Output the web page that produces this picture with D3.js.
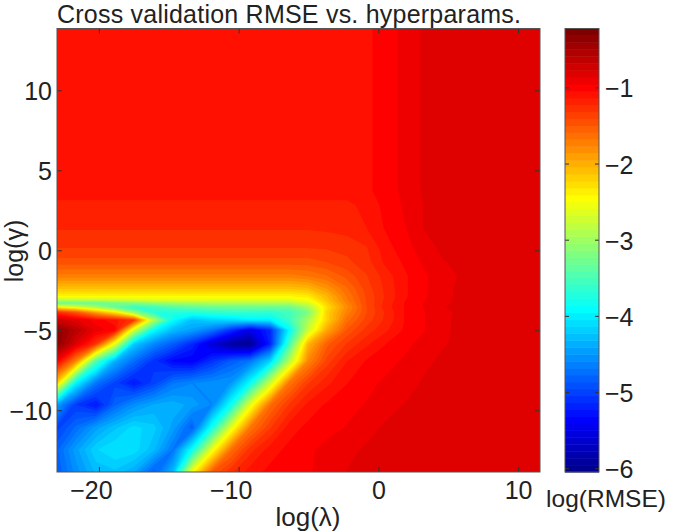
<!DOCTYPE html>
<html><head><meta charset="utf-8">
<script src="https://cdn.jsdelivr.net/npm/d3@7"></script>
<style>html,body{margin:0;padding:0;background:#fff}svg{display:block}text{font-family:"Liberation Sans",Arial,sans-serif;fill:#222}</style>
</head><body><svg id="c" width="675" height="532"></svg>
<script>
const lambdaLevels=[-23,-21.64,-20.21,-18.85,-17.49,-16.06,-14.7,-13.34,-11.91,-10.55,-9.19,-7.76,-6.4,-5.04,-3.68,-2.25,-0.89,0.47,1.9,3.26,4.62,6.05,7.41,8.77,10.2,11.57];
const gammaLevels=[-13.86,-12.47,-11.09,-9.66,-8.29,-6.92,-5.86,-4.99,-4.36,-3.87,-3.55,-3.3,-3.12,-2.87,-2.37,-1.62,-0.75,0.12,1.37,2.81,3.74,13.86];
const rmseGrid=[
[-4.85,-4.55,-4.3,-4.25,-4.4,-4.85,-4.3,-2.5,-1.5,-1.25,-1.09,-1.02,-0.99,-0.965,-0.92,-0.86,-0.83,-0.83,-0.83,-0.83,-0.83,-0.83,-0.83,-0.83,-0.83,-0.83],
[-4.8,-4.45,-4.15,-4.05,-4.08,-4.3,-4.7,-3.85,-2.55,-1.62,-1.27,-1.09,-1.02,-0.97,-0.93,-0.89,-0.85,-0.83,-0.83,-0.83,-0.83,-0.83,-0.83,-0.83,-0.83,-0.83],
[-5.0,-4.75,-4.45,-4.25,-4.1,-4.2,-4.45,-4.85,-3.8,-2.6,-1.67,-1.33,-1.09,-1.02,-0.98,-0.95,-0.9,-0.85,-0.83,-0.83,-0.83,-0.83,-0.83,-0.83,-0.83,-0.83],
[-4.45,-5.05,-5.25,-4.8,-4.55,-4.4,-4.35,-4.45,-4.6,-3.85,-2.6,-1.62,-1.31,-1.11,-1.03,-0.98,-0.95,-0.9,-0.86,-0.83,-0.83,-0.83,-0.83,-0.83,-0.83,-0.83],
[-2.2,-3.95,-4.7,-5.0,-5.25,-5.0,-4.7,-4.6,-4.55,-4.5,-3.9,-2.75,-1.67,-1.33,-1.16,-1.05,-0.98,-0.94,-0.91,-0.85,-0.83,-0.83,-0.83,-0.83,-0.83,-0.83],
[-0.95,-1.75,-3.45,-4.35,-4.75,-5.1,-5.35,-5.4,-5.1,-4.85,-4.7,-4.15,-2.9,-1.77,-1.37,-1.14,-1.04,-0.99,-0.94,-0.89,-0.84,-0.83,-0.83,-0.83,-0.83,-0.83],
[-0.32,-0.8,-1.3,-2.6,-4.2,-4.6,-4.85,-5.15,-5.6,-5.9,-6.0,-5.2,-3.55,-2.05,-1.53,-1.31,-1.16,-1.05,-0.98,-0.92,-0.875,-0.83,-0.83,-0.83,-0.83,-0.83],
[-0.33,-0.6,-0.9,-1.0,-2.7,-3.9,-4.3,-4.45,-4.7,-5.1,-5.5,-5.15,-3.95,-2.75,-1.95,-1.49,-1.29,-1.16,-1.03,-0.96,-0.88,-0.84,-0.83,-0.83,-0.83,-0.83],
[-0.7,-0.85,-1.0,-1.1,-1.3,-2.9,-3.9,-4.25,-4.15,-4.1,-4.0,-4.0,-3.6,-2.95,-2.2,-1.63,-1.38,-1.21,-1.04,-0.96,-0.88,-0.84,-0.83,-0.83,-0.83,-0.83],
[-1.25,-1.5,-1.95,-2.35,-3.1,-3.7,-3.7,-3.7,-3.65,-3.6,-3.6,-3.65,-3.55,-3.2,-2.2,-1.74,-1.42,-1.22,-1.04,-0.96,-0.89,-0.84,-0.83,-0.83,-0.83,-0.83],
[-2.41,-2.62,-2.95,-3.35,-3.6,-3.55,-3.4,-3.35,-3.3,-3.3,-3.3,-3.3,-3.3,-2.95,-2.28,-1.8,-1.42,-1.19,-1.04,-0.95,-0.87,-0.83,-0.83,-0.83,-0.83,-0.83],
[-3.35,-3.35,-3.32,-3.25,-3.15,-3.05,-3.0,-2.95,-2.92,-2.92,-2.92,-2.92,-2.92,-2.68,-2.17,-1.74,-1.41,-1.2,-1.04,-0.95,-0.88,-0.84,-0.83,-0.83,-0.83,-0.83],
[-2.85,-2.83,-2.8,-2.77,-2.72,-2.66,-2.63,-2.62,-2.62,-2.62,-2.62,-2.62,-2.62,-2.5,-2.1,-1.7,-1.41,-1.21,-1.05,-0.96,-0.88,-0.84,-0.83,-0.83,-0.83,-0.83],
[-2.42,-2.42,-2.42,-2.42,-2.42,-2.42,-2.42,-2.42,-2.42,-2.42,-2.42,-2.42,-2.42,-2.35,-2.05,-1.67,-1.4,-1.22,-1.06,-0.97,-0.89,-0.84,-0.83,-0.83,-0.83,-0.83],
[-2.1,-2.1,-2.1,-2.1,-2.1,-2.1,-2.1,-2.1,-2.1,-2.1,-2.1,-2.1,-2.1,-2.05,-1.85,-1.6,-1.37,-1.21,-1.06,-0.97,-0.89,-0.84,-0.83,-0.83,-0.83,-0.83],
[-1.72,-1.72,-1.72,-1.72,-1.72,-1.72,-1.72,-1.72,-1.72,-1.72,-1.72,-1.72,-1.72,-1.68,-1.6,-1.47,-1.33,-1.19,-1.06,-0.97,-0.9,-0.85,-0.83,-0.83,-0.83,-0.83],
[-1.45,-1.45,-1.45,-1.45,-1.45,-1.45,-1.45,-1.45,-1.45,-1.45,-1.45,-1.45,-1.45,-1.45,-1.41,-1.34,-1.27,-1.12,-1.03,-0.94,-0.87,-0.84,-0.83,-0.83,-0.83,-0.83],
[-1.32,-1.32,-1.32,-1.32,-1.32,-1.32,-1.32,-1.32,-1.32,-1.32,-1.32,-1.32,-1.32,-1.32,-1.31,-1.29,-1.24,-1.09,-0.99,-0.91,-0.84,-0.83,-0.83,-0.83,-0.83,-0.83],
[-1.22,-1.22,-1.22,-1.22,-1.22,-1.22,-1.22,-1.22,-1.22,-1.22,-1.22,-1.22,-1.22,-1.22,-1.21,-1.19,-1.14,-1.04,-0.96,-0.86,-0.83,-0.83,-0.83,-0.83,-0.83,-0.83],
[-1.16,-1.16,-1.16,-1.16,-1.16,-1.16,-1.16,-1.16,-1.16,-1.16,-1.16,-1.16,-1.16,-1.16,-1.16,-1.16,-1.11,-1.02,-0.94,-0.86,-0.83,-0.83,-0.83,-0.83,-0.83,-0.83],
[-1.09,-1.09,-1.09,-1.09,-1.09,-1.09,-1.09,-1.09,-1.09,-1.09,-1.09,-1.09,-1.09,-1.09,-1.09,-1.09,-1.07,-1.0,-0.93,-0.85,-0.83,-0.83,-0.83,-0.83,-0.83,-0.83],
[-1.09,-1.09,-1.09,-1.09,-1.09,-1.09,-1.09,-1.09,-1.09,-1.09,-1.09,-1.09,-1.09,-1.09,-1.09,-1.09,-1.07,-1.0,-0.93,-0.85,-0.83,-0.83,-0.83,-0.83,-0.83,-0.83]
];
const xTicks=[-20,-10,0,10], yTicks=[-10,-5,0,5,10], cTicks=[-1,-2,-3,-4,-5,-6];
const jetStops=["#00008f","#0000ff","#00ffff","#ffff00","#ff0000","#800000"];
const jetOffsets=[0,7/63,23/63,39/63,55/63,1];
const cMin=-6.05,cMax=-0.227,nLevels=64;

const svg=d3.select("#c");
const x=d3.scaleLinear().domain([-23,11.57]).range([57,540]);
const y=d3.scaleLinear().domain([-13.86,13.86]).range([472,28.5]);
const cy=d3.scaleLinear().domain([cMin,cMax]).range([472,28.5]);
const jet=d3.scaleLinear().domain(jetOffsets).range(jetStops);
const levels=d3.range(nLevels).map(i=>cMin+i*(cMax-cMin)/nLevels);
const color=i=>jet(i/(nLevels-1));

const nx=lambdaLevels.length, ny=gammaLevels.length;
const lamAt=d3.scaleLinear().domain(lambdaLevels.map((_,i)=>i+0.5)).range(lambdaLevels);
const gamAt=d3.scaleLinear().domain(gammaLevels.map((_,i)=>i+0.5)).range(gammaLevels);
const path=d3.geoPath(d3.geoTransform({point(a,b){this.stream.point(x(lamAt(a)),y(gamAt(b)));}}));
const contours=d3.contours().size([nx,ny]).thresholds(levels).smooth(true)(rmseGrid.flat());

svg.append("defs").append("clipPath").attr("id","pc").append("rect")
  .attr("x",57).attr("y",28.5).attr("width",483).attr("height",443.5);
const plot=svg.append("g").attr("clip-path","url(#pc)");
plot.append("rect").attr("x",57).attr("y",28.5).attr("width",483).attr("height",443.5).attr("fill",color(0));
plot.selectAll("path").data(contours).join("path")
  .attr("d",path).attr("fill",d=>color(levels.indexOf(d.value)));

function frame(x0,y0,w,h){svg.append("rect").attr("x",x0).attr("y",y0).attr("width",w).attr("height",h).attr("fill","none").attr("stroke","#555").attr("stroke-width",1);}
function style(g,size){g.select(".domain").remove();g.selectAll(".tick line").attr("stroke","#333").attr("stroke-width",1);g.selectAll("text").attr("font-size",size).attr("fill","#222");return g;}
const fmt=d3.format("d");
style(svg.append("g").attr("transform","translate(0,472)").call(d3.axisBottom(x).tickValues(xTicks).tickFormat(fmt).tickSizeInner(-5).tickPadding(9)),25)
  .selectAll("text").attr("dx",d=>d<0?-8:0);
style(svg.append("g").attr("transform","translate(0,28.5)").call(d3.axisTop(x).tickValues(xTicks).tickFormat("").tickSizeInner(-5)),25);
style(svg.append("g").attr("transform","translate(57,0)").call(d3.axisLeft(y).tickValues(yTicks).tickFormat(fmt).tickSizeInner(-5).tickPadding(5)),25)
  .selectAll("text").attr("dy","0.38em");
style(svg.append("g").attr("transform","translate(540,0)").call(d3.axisRight(y).tickValues(yTicks).tickFormat("").tickSizeInner(-5)),25);
frame(57,28.5,483,443.5);

// colour bar
const barX=565,barW=34;
svg.append("g").selectAll("rect").data(levels).join("rect")
  .attr("x",barX).attr("width",barW)
  .attr("y",(d,i)=>cy(i===nLevels-1?cMax:levels[i+1]))
  .attr("height",(d,i)=>cy(d)-cy(i===nLevels-1?cMax:levels[i+1])+0.5)
  .attr("fill",(d,i)=>color(i));
style(svg.append("g").attr("transform",`translate(${barX+barW},0)`).call(d3.axisRight(cy).tickValues(cTicks).tickFormat(fmt).tickSizeInner(-4).tickPadding(6)),25)
  .selectAll("text").attr("dy","0.38em");
style(svg.append("g").attr("transform",`translate(${barX},0)`).call(d3.axisLeft(cy).tickValues(cTicks).tickFormat("").tickSizeInner(-4)),25);
frame(barX,28.5,barW,443.5);

svg.append("text").attr("x",57).attr("y",22.7).attr("font-size",25).attr("textLength",464).attr("lengthAdjust","spacing").text("Cross validation RMSE vs. hyperparams.");
svg.append("text").attr("x",308).attr("y",526).attr("text-anchor","middle").attr("font-size",26).text("log(λ)");
svg.append("text").attr("transform","translate(22.8,251) rotate(-90)").attr("text-anchor","middle").attr("font-size",25).text("log(γ)");
svg.append("text").attr("x",606).attr("y",507).attr("text-anchor","middle").attr("font-size",24.5).text("log(RMSE)");
</script></body></html>
